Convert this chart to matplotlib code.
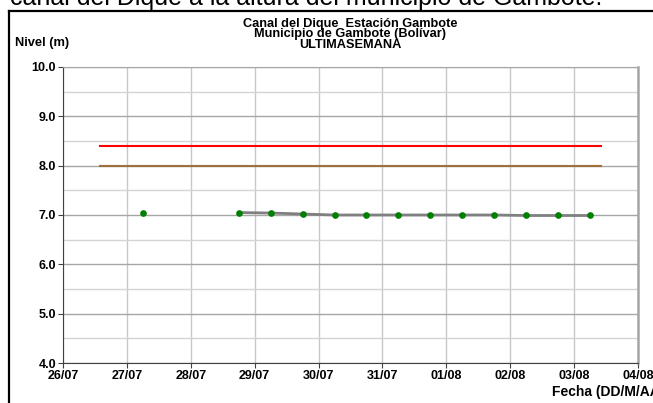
import datetime as dt
import numpy as np
import matplotlib
matplotlib.use("Agg")
import matplotlib.pyplot as plt
import matplotlib.dates as mdates
from matplotlib.lines import Line2D

plt.rcParams["font.family"] = ["Liberation Sans", "DejaVu Sans"]

# nivel del canal (m), lecturas de la ultima semana (06:00 y 18:00)
fechas = ["2023-07-27 06:00", "2023-07-28 18:00", "2023-07-29 06:00", "2023-07-29 18:00",
          "2023-07-30 06:00", "2023-07-30 18:00", "2023-07-31 06:00", "2023-07-31 18:00",
          "2023-08-01 06:00", "2023-08-01 18:00", "2023-08-02 06:00", "2023-08-02 18:00",
          "2023-08-03 06:00"]
nivel = [7.05, 7.05, 7.04, 7.02, 7.00, 7.00, 7.00, 7.00, 7.00, 7.00, 6.99, 6.99, 6.99]
# cotas de alerta
alerta_roja = 8.4
alerta_naranja = 8.0
alerta_ini, alerta_fin = "2023-07-26 14:00", "2023-08-03 10:00"
xlim = ("2023-07-26", "2023-08-04")
ylim = (4.0, 10.0)

t = [dt.datetime.strptime(s, "%Y-%m-%d %H:%M") for s in fechas]
ta = [dt.datetime.strptime(s, "%Y-%m-%d %H:%M") for s in (alerta_ini, alerta_fin)]
tx = [dt.datetime.strptime(s, "%Y-%m-%d") for s in xlim]

W, H = 653, 403
fig = plt.figure(figsize=(W / 100, H / 100), dpi=100)
ax = fig.add_axes([63 / W, 1 - 363 / H, (638 - 63) / W, (363 - 67) / H])

ax.set_xlim(tx); ax.set_ylim(ylim)
ax.xaxis.set_major_locator(mdates.DayLocator())
ax.xaxis.set_major_formatter(mdates.DateFormatter("%d/%m"))
ax.set_yticks(np.arange(4, 10.01, 1.0))
ax.set_yticks(np.arange(4.5, 10, 1.0), minor=True)
ax.yaxis.set_major_formatter(matplotlib.ticker.FormatStrFormatter("%.1f"))
ax.grid(axis="x", color="#c8c8c8", lw=1.0)
ax.grid(axis="y", which="major", color="#a6a6a6", lw=1.0)
ax.grid(axis="y", which="minor", color="#d4d4d4", lw=1.0)
ax.tick_params(which="minor", length=0)
ax.tick_params(which="major", length=3.5, width=0.8, color="#404040", labelsize=9, pad=1.5)
for lab in ax.get_xticklabels() + ax.get_yticklabels():
    lab.set_fontweight("bold")
ax.set_axisbelow(True)
ax.spines["left"].set_color("#404040")
ax.spines["bottom"].set_color("#404040")
ax.spines["top"].set_color("#a6a6a6")
ax.spines["right"].set_color("#a6a6a6"); ax.spines["right"].set_linewidth(1.8)

ax.plot(ta, [alerta_roja] * 2, color="#ff0000", lw=1.5)
ax.plot(ta, [alerta_naranja] * 2, color="#a0703c", lw=1.5)
ax.plot(t[1:], nivel[1:], color="#808080", lw=2.0, zorder=3)
ax.plot(t, nivel, ls="none", marker="o", ms=3.8, color="#008000", zorder=4)

titulo = "Canal del Dique  Estación Gambote\nMunicipio de Gambote (Bolívar)\nULTIMASEMANA"
fig.text(350 / W, 1 - 34.5 / H, titulo, ha="center", va="center", fontsize=9.2,
         fontweight="bold", linespacing=0.82)
fig.text(15 / W, 1 - 43 / H, "Nivel (m)", ha="left", va="center", fontsize=9.3, fontweight="bold")
fig.text(552 / W, 1 - 392 / H, "Fecha (DD/M/AA)", ha="left", va="center", fontsize=10, fontweight="bold")

# texto de la pagina cortado arriba y marco
fig.text(10 / W, 1 - 5 / H, "canal del Dique a la altura del municipio de Gambote.",
         ha="left", va="baseline", fontsize=18)
fig.add_artist(Line2D([9 / W, 9 / W], [0, 1 - 11 / H], color="black", lw=1.6, transform=fig.transFigure))
fig.add_artist(Line2D([9 / W, 1], [1 - 11 / H, 1 - 11 / H], color="black", lw=1.6, transform=fig.transFigure))

fig.savefig("out.png", dpi=100)
